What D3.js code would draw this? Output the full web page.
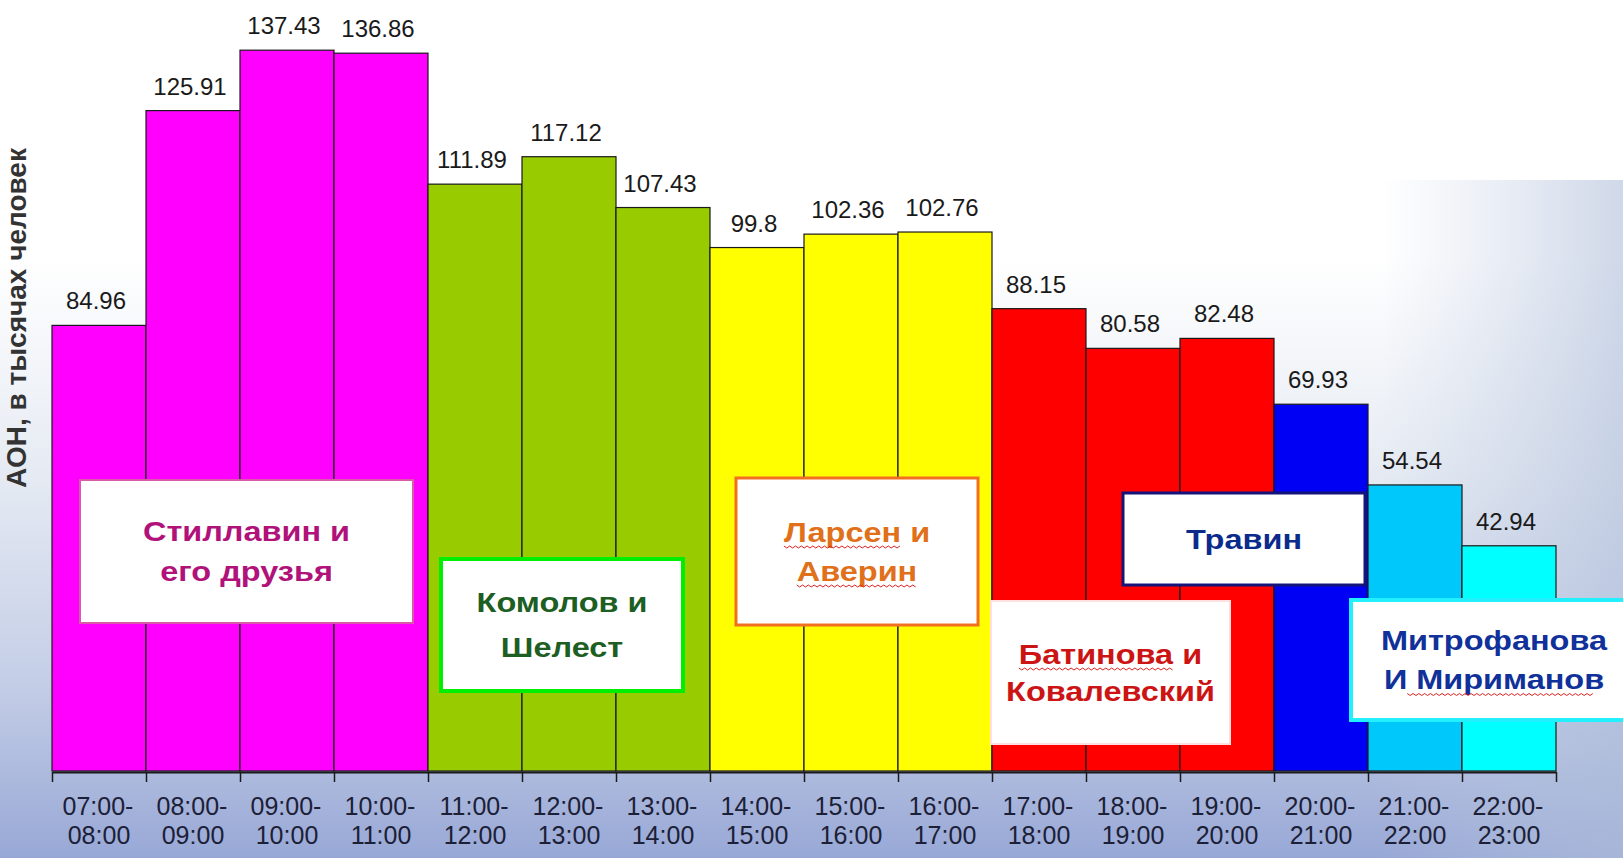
<!DOCTYPE html>
<html><head><meta charset="utf-8">
<script src="https://cdn.jsdelivr.net/npm/d3@7"></script>
<style>html,body{margin:0;padding:0;overflow:hidden;background:#fff}</style>
</head><body><svg id="c" width="1623" height="858"></svg>
<script>
// ---- data ----
const categories = ["07:00-08:00","08:00-09:00","09:00-10:00","10:00-11:00","11:00-12:00","12:00-13:00","13:00-14:00","14:00-15:00","15:00-16:00","16:00-17:00","17:00-18:00","18:00-19:00","19:00-20:00","20:00-21:00","21:00-22:00","22:00-23:00"];
const values = [84.96,125.91,137.43,136.86,111.89,117.12,107.43,99.8,102.36,102.76,88.15,80.58,82.48,69.93,54.54,42.94];
const valueLabels = ["84.96","125.91","137.43","136.86","111.89","117.12","107.43","99.8","102.36","102.76","88.15","80.58","82.48","69.93","54.54","42.94"];
const hostLines = [["Стиллавин и","его друзья"],["Комолов и","Шелест"],["Ларсен и","Аверин"],["Травин"],["Батинова и","Ковалевский"],["Митрофанова","И Мириманов"]];
const yTitle = "АОН, в тысячах человек";
const spellFlags = [{box:2,line:0,word:"Ларсен"},{box:2,line:1,word:"Аверин"},{box:4,line:0,word:"Батинова"},{box:5,line:1,word:"Мириманов"}];

// ---- styles / layout ----
const barPalette = ["#ff00ff","#ff00ff","#ff00ff","#ff00ff","#99cc00","#99cc00","#99cc00","#ffff00","#ffff00","#ffff00","#ff0000","#ff0000","#ff0000","#0000f4","#00c8fa","#00ffff"];
const boxes = [
  {x0:80,x1:413,y0:480,y1:623,stroke:"#d85aa8",sw:2,color:"#b0127a",gap:40,tx:0},
  {x0:441,x1:683,y0:559,y1:691,stroke:"#00ee00",sw:4,color:"#1d5e23",gap:45,tx:0},
  {x0:736,x1:978,y0:478,y1:625,stroke:"#f07020",sw:3,color:"#e0701a",gap:39,tx:0},
  {x0:1123,x1:1365,y0:493,y1:585,stroke:"#14147a",sw:3,color:"#0a2a8c",gap:40,tx:0},
  {x0:991,x1:1230,y0:601,y1:744,stroke:"#ffe0e0",sw:2,color:"#cc1414",gap:37,tx:0},
  {x0:1351,x1:1640,y0:600,y1:720,stroke:"#22f0ff",sw:4,color:"#10309a",gap:39,tx:7}
];
const W = 1623, H = 858;
const svg = d3.select("#c");
const defs = svg.append("defs");
const g1 = defs.append("linearGradient").attr("id","bg").attr("x1",0).attr("y1",0).attr("x2",0).attr("y2",1);
[[0,"#ffffff"],[0.3,"#ffffff"],[0.55,"#e6ebf3"],[0.8,"#c3cde6"],[1,"#98a8d6"]].forEach(([o,c])=>g1.append("stop").attr("offset",o).attr("stop-color",c));
const g2 = defs.append("linearGradient").attr("id","bgr").attr("x1",0).attr("y1",0).attr("x2",1).attr("y2",0);
[[0,"rgba(190,202,225,0)"],[0.85,"rgba(190,202,225,0)"],[1,"rgba(175,190,218,0.6)"]].forEach(([o,c])=>g2.append("stop").attr("offset",o).attr("stop-color",c));
svg.append("rect").attr("width",W).attr("height",H).attr("fill","url(#bg)");
svg.append("rect").attr("y",180).attr("width",W).attr("height",H-180).attr("fill","url(#bgr)");

const x = d3.scaleBand().domain(categories).range([52,1556]).paddingInner(0).paddingOuter(0);
const y = d3.scaleLinear().domain([0,140]).range([771,771-140*5.245]);
const xb = d3.scaleLinear().domain([0,categories.length]).range([52,1556]);

// bars
svg.append("g").selectAll("rect").data(values).join("rect")
  .attr("x",(d,i)=>x(categories[i]))
  .attr("y",d=>y(d))
  .attr("width",x.bandwidth())
  .attr("height",d=>y(0)-y(d))
  .attr("fill",(d,i)=>barPalette[i])
  .attr("stroke","#1a1a1a").attr("stroke-width",1.2);

// value labels
svg.append("g").selectAll("text").data(values).join("text")
  .attr("x",(d,i)=>x(categories[i])+x.bandwidth()/2-3)
  .attr("y",d=>y(d)-16)
  .attr("text-anchor","middle")
  .attr("font-family","'Liberation Sans',Arial,sans-serif")
  .attr("font-size",24).attr("fill","#1a1a1a")
  .text((d,i)=>valueLabels[i]);

// axis with boundary ticks
const axG = svg.append("g").attr("transform",`translate(0,${y(0)+1})`)
  .call(d3.axisBottom(xb).tickValues(d3.range(categories.length+1)).tickSize(10).tickSizeOuter(0).tickFormat(""));
axG.select(".domain").attr("stroke","#1a1a1a").attr("stroke-width",2);
axG.selectAll(".tick line").attr("stroke","#1a1a1a").attr("stroke-width",1.5);

// category labels
const lab = svg.append("g").attr("transform",`translate(0,${y(0)+1})`)
  .call(d3.axisBottom(x).tickSize(0).tickFormat(""));
lab.select(".domain").remove();
lab.selectAll(".tick").each(function(d){
  const t = d3.select(this).append("text")
    .attr("text-anchor","middle").attr("fill","#1c2036")
    .attr("font-family","'Liberation Sans',Arial,sans-serif").attr("font-size",25);
  const parts = d.split("-");
  t.append("tspan").attr("x",-1).attr("y",43).text(parts[0]+"-");
  t.append("tspan").attr("x",0).attr("y",72).text(parts[1]);
});

// y title
svg.append("text")
  .attr("transform",`translate(26,318) rotate(-90)`)
  .attr("text-anchor","middle")
  .attr("font-family","'Liberation Sans',Arial,sans-serif").attr("font-weight","bold")
  .attr("font-size",28).attr("fill","#333333")
  .text(yTitle);

// annotation boxes
const SX = 1.16, FS = 28;
boxes.forEach((b,i)=>{
  svg.append("rect").attr("x",b.x0).attr("y",b.y0).attr("width",b.x1-b.x0).attr("height",b.y1-b.y0)
    .attr("fill","#ffffff").attr("stroke",b.stroke).attr("stroke-width",b.sw);
  const cx = (b.x0+Math.min(b.x1,W))/2 + b.tx, cy=(b.y0+b.y1)/2;
  const lines = hostLines[i];
  const g = svg.append("g").attr("transform",`translate(${cx},0) scale(${SX},1)`);
  lines.forEach((ln,j)=>{
    const base = cy + 10 + (j-(lines.length-1)/2)*b.gap;
    const t = g.append("text").attr("x",0).attr("y",base).attr("text-anchor","middle")
      .attr("font-family","'Liberation Sans',Arial,sans-serif").attr("font-weight","bold")
      .attr("font-size",FS).attr("fill",b.color).text(ln);
    spellFlags.filter(f=>f.box===i&&f.line===j).forEach(f=>{
      const full = t.node().getComputedTextLength();
      const idx = ln.indexOf(f.word);
      const tmp = g.append("text").attr("font-family","'Liberation Sans',Arial,sans-serif").attr("font-weight","bold").attr("font-size",FS);
      tmp.text(ln.slice(0,idx)); const pre = idx>0? tmp.node().getComputedTextLength():0;
      tmp.text(f.word); const ww = tmp.node().getComputedTextLength();
      tmp.remove();
      const xs = -full/2+pre, xe = xs+ww, yy = base+4;
      let p = `M${xs},${yy}`; let k=0;
      for(let xx=xs+2.5; xx<=xe; xx+=2.5){ k++; p += ` L${xx},${yy+(k%2?2:0)}`; }
      g.append("path").attr("d",p).attr("fill","none").attr("stroke","#e02020").attr("stroke-width",1).attr("vector-effect","non-scaling-stroke");
    });
  });
});
</script></body></html>
